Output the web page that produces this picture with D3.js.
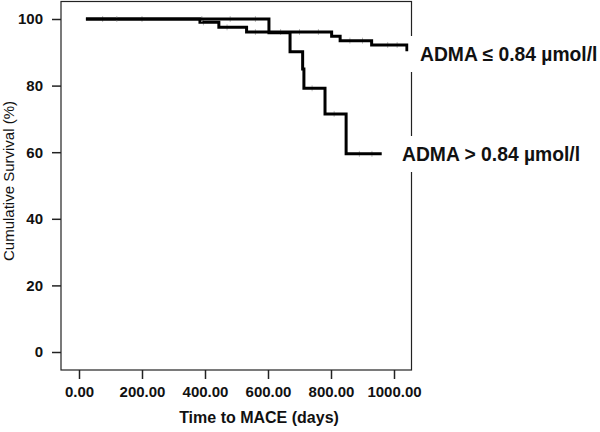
<!DOCTYPE html>
<html><head><meta charset="utf-8">
<script src="https://cdn.jsdelivr.net/npm/d3@7"></script>
<style>body{margin:0;background:#fff}svg{display:block}</style>
</head><body><svg id="c" width="600" height="432"></svg>
<script>
const xTicks = [0, 200, 400, 600, 800, 1000];
const yTicks = [0, 20, 40, 60, 80, 100];
const lowTimes = [22, 384, 444, 532, 802, 829, 929, 1041];
const lowSurv  = [100, 99.0, 97.5, 96.1, 94.8, 93.5, 92.2, 90.3];
const highTimes = [22, 603, 670, 710, 714, 781, 848, 961];
const highSurv  = [100, 95.9, 90.2, 85.0, 79.2, 71.5, 59.5, 59.5];
const lowCens = [75, 200, 395, 470, 560, 640, 700, 760, 860, 900, 980, 1010];
const highCens = [120, 390, 480, 560, 740, 810, 890, 930];
const labels = ["ADMA \u2264 0.84 \u00b5mol/l", "ADMA > 0.84 \u00b5mol/l"];
const xTitle = "Time to MACE (days)";
const yTitle = "Cumulative Survival (%)";

const svg = d3.select("#c");
const L = 61, R = 411.5, T = 1.5, B = 370;
const x = d3.scaleLinear().domain([0, 1000]).range([79, 394]);
const y = d3.scaleLinear().domain([0, 100]).range([352, 19]);

svg.append("rect").attr("x", L).attr("y", T).attr("width", R - L).attr("height", B - T)
  .attr("fill", "none").attr("stroke", "#222").attr("stroke-width", 1.2);

const font = "'Liberation Sans', Arial, sans-serif";
const xa = svg.append("g").attr("transform", `translate(0,${B})`)
  .call(d3.axisBottom(x).tickValues(xTicks).tickFormat(d => d3.format(".2f")(d)).tickSize(9).tickPadding(7));
const ya = svg.append("g").attr("transform", `translate(${L},0)`)
  .call(d3.axisLeft(y).tickValues(yTicks).tickFormat(d3.format("d")).tickSize(9).tickPadding(9));
[xa, ya].forEach(a => {
  a.select(".domain").remove();
  a.selectAll("line").attr("stroke", "#222").attr("stroke-width", 1.5);
  a.selectAll("text").attr("font-family", font).attr("font-weight", "bold")
    .attr("font-size", 15).attr("fill", "#111");
});

const line = d3.line().x(d => x(d[0])).y(d => y(d[1])).curve(d3.curveStepAfter);
function surv(times, s, t) { let v = s[0]; for (let i = 0; i < times.length; i++) if (times[i] <= t) v = s[i]; return v; }
[[lowTimes, lowSurv, lowCens], [highTimes, highSurv, highCens]].forEach(([t, s, c]) => {
  svg.append("g").selectAll("line").data(c).join("line")
    .attr("x1", d => x(d)).attr("x2", d => x(d))
    .attr("y1", d => y(surv(t, s, d)) - 3).attr("y2", d => y(surv(t, s, d)) + 3)
    .attr("stroke", "#bbb").attr("stroke-width", 1);
  svg.append("path").datum(t.map((d, i) => [d, s[i]])).attr("d", line)
    .attr("fill", "none").attr("stroke", "#000").attr("stroke-width", 3);
});

const labPos = [[420, 54], [402, 154]];
labels.forEach((txt, i) => {
  svg.append("rect").attr("x", R - 3).attr("y", labPos[i][1] - 18).attr("width", 600 - R + 3).attr("height", 36).attr("fill", "#fff");
  svg.append("text").attr("x", labPos[i][0]).attr("y", labPos[i][1]).attr("dy", "0.35em")
    .attr("font-family", font).attr("font-weight", "bold").attr("font-size", 19.3).attr("fill", "#111").text(txt);
});

svg.append("text").attr("x", 259).attr("y", 423).attr("text-anchor", "middle")
  .attr("font-family", font).attr("font-weight", "bold").attr("font-size", 16).attr("fill", "#111").text(xTitle);
svg.append("text").attr("transform", "translate(13.5,181) rotate(-90)").attr("text-anchor", "middle")
  .attr("font-family", font).attr("font-size", 15).attr("fill", "#111").text(yTitle);
</script></body></html>
